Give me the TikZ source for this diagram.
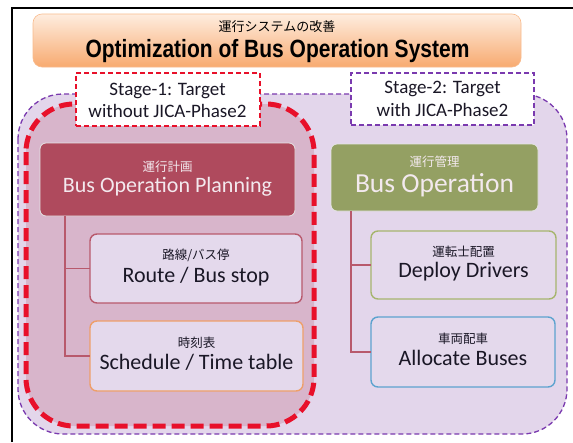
\documentclass[tikz,border=0pt]{standalone}
\usepackage{fontspec}
\usepackage{graphicx}
\setmainfont{Carlito}
\newfontfamily\cjk{Noto Sans CJK JP}
\newfontfamily\headfont{Liberation Sans}
\usetikzlibrary{calc}

\definecolor{lavender}{HTML}{E3D6EB}
\definecolor{mauvefill}{HTML}{D8B5CB}
\definecolor{redDash}{HTML}{E8102A}
\definecolor{purpleDash}{HTML}{7A3AAF}
\definecolor{planFill}{HTML}{AF4A5D}
\definecolor{operFill}{HTML}{94A063}
\definecolor{subFill}{HTML}{E4D9EC}
\definecolor{routeLine}{HTML}{B8596C}
\definecolor{schedLine}{HTML}{EE9F6A}
\definecolor{driverLine}{HTML}{A6B56E}
\definecolor{busLine}{HTML}{5DA3CF}
\definecolor{bodyText}{HTML}{1A1726}
\definecolor{headText}{HTML}{F3E9EE}
\definecolor{peachTop}{HTML}{FEEDDF}
\definecolor{peachBottom}{HTML}{F8AA70}

\begin{document}
\begin{tikzpicture}[x=1pt,y=-1pt,
  region/.style={rounded corners=45pt},
  headbox/.style={rectangle, rounded corners=6pt, inner sep=0pt, outer sep=0pt, draw=white!80!gray, line width=0.8pt},
  subbox/.style={rectangle, rounded corners=7pt, inner sep=0pt, outer sep=0pt, fill=subFill, line width=1.4pt},
  stagebox/.style={rectangle, inner sep=0pt, outer sep=0pt, fill=white, line width=1.3pt, dash pattern=on 5pt off 3pt},
  conn/.style={draw=routeLine, line width=1.3pt},
  jphead/.style={font=\cjk\fontsize{12.5}{12.5}\selectfont, text=headText, anchor=center, inner sep=0pt},
  jpsub/.style={font=\cjk\fontsize{12.5}{12.5}\selectfont, text=bodyText, anchor=center, inner sep=0pt},
  entext/.style={font=\fontsize{22}{22}\selectfont, text=bodyText, anchor=base, inner sep=0pt},
  stagetext/.style={font=\fontsize{19}{19}\selectfont, text=bodyText, anchor=base, inner sep=0pt}
]
\useasboundingbox (0,0) rectangle (573,442);
\fill[white] (0,0) rectangle (573,442);

% outer frame
\draw[line width=2pt] (12,442) -- (12,8) -- (573,8);

% title banner
\node[rectangle, rounded corners=9pt, minimum width=488pt, minimum height=53pt, inner sep=0pt,
      top color=peachTop, bottom color=peachBottom, draw=peachBottom!80!white, line width=0.6pt]
      (title) at (277,40.5) {};
\node[font=\cjk\fontsize{13}{13}\selectfont, text=black, inner sep=0pt] (titlejp) at (277,27) {運行システムの改善};
\node[anchor=base, inner sep=0pt] (titleen) at (277.5,57)
  {\scalebox{0.84}[1]{\headfont\bfseries\fontsize{25}{25}\selectfont Optimization of Bus Operation System}};

% stage regions
\filldraw[region, fill=lavender, draw=purpleDash, line width=1.3pt, dash pattern=on 5pt off 3pt]
  (18,94) rectangle (567,434);
\filldraw[rounded corners=48pt, fill=mauvefill, draw=redDash, line width=5pt, dash pattern=on 13pt off 6pt]
  (26,104) rectangle (314,426);

% stage labels
\node[stagebox, draw=redDash, minimum width=184pt, minimum height=53pt] (stage1) at (168,99.5) {};
\node[stagetext] (s1a) at (167.5,95) {Stage-1: Target};
\node[stagetext] (s1b) at (167.5,117.3) {without JICA-Phase2};
\node[stagebox, draw=purpleDash, minimum width=183pt, minimum height=52pt] (stage2) at (442.5,99) {};
\node[stagetext] (s2a) at (442.5,93.5) {Stage-2: Target};
\node[stagetext] (s2b) at (442.5,116) {with JICA-Phase2};

% planning branch
\node[headbox, fill=planFill, minimum width=255pt, minimum height=73pt] (plan) at (167.5,179.5) {};
\node[jphead] (planjp) at (167.5,166.5) {運行計画};
\node[entext, text=headText] (planen) at (167.5,192.7) {Bus Operation Planning};

\node[subbox, draw=routeLine, minimum width=212pt, minimum height=69pt] (route) at (196,268.5) {};
\node[jpsub] (routejp) at (196,255) {路線/バス停};
\node[entext] (routeen) at (196,282.7) {Route / Bus stop};

\node[subbox, draw=schedLine, minimum width=213pt, minimum height=70pt] (sched) at (196.5,356) {};
\node[jpsub] (schedjp) at (196.5,342.7) {時刻表};
\node[entext] (scheden) at (196.5,369.3) {Schedule / Time table};

\draw[conn] ($(plan.south west)+(25,0)$) |- (route.west);
\draw[conn] ($(plan.south west)+(25,0)$) |- (sched.west);

% operation branch
\node[headbox, fill=operFill, minimum width=207pt, minimum height=67pt] (oper) at (434.5,177.5) {};
\node[jphead] (operjp) at (434.5,161.7) {運行管理};
\node[entext, text=headText, font=\fontsize{27.5}{27.5}\selectfont] (operen) at (434.5,192.7) {Bus Operation};

\node[subbox, draw=driverLine, minimum width=185pt, minimum height=68pt] (drivers) at (463.5,265) {};
\node[jpsub] (driversjp) at (463.5,251.7) {運転士配置};
\node[entext] (driversen) at (463.5,277.3) {Deploy Drivers};

\node[subbox, draw=busLine, minimum width=184pt, minimum height=70pt] (buses) at (463,352) {};
\node[jpsub] (busesjp) at (463,339) {車両配車};
\node[entext] (busesen) at (463,365) {Allocate Buses};

\draw[conn] ($(oper.south west)+(20,0)$) |- (drivers.west);
\draw[conn] ($(oper.south west)+(20,0)$) |- (buses.west);
\end{tikzpicture}
\end{document}
